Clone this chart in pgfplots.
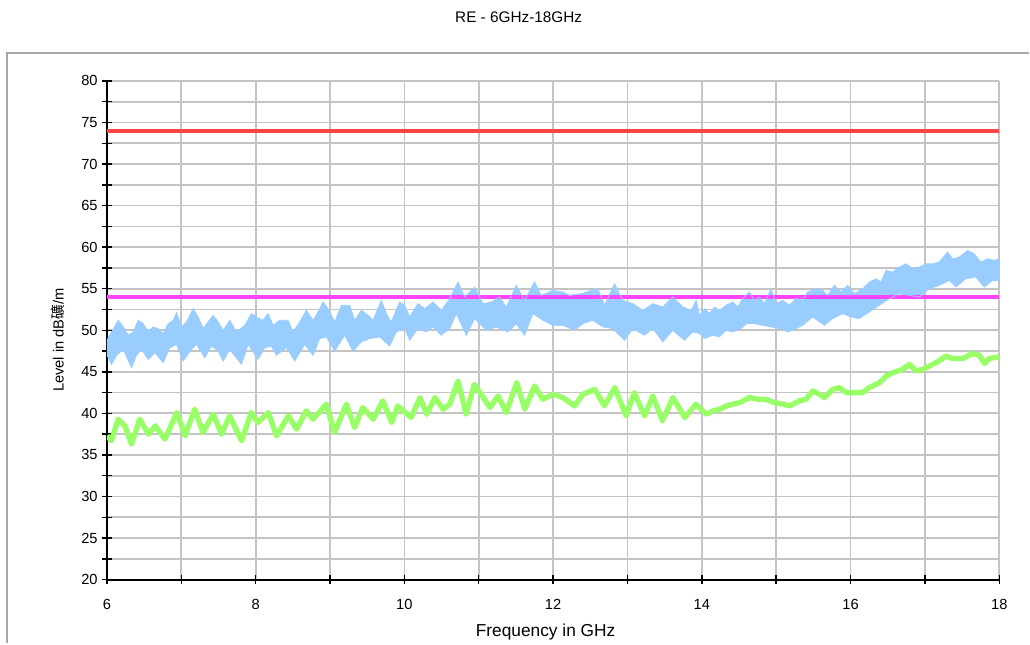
\documentclass[border=0pt]{standalone}
\usepackage{fontspec}
\setmainfont{Liberation Sans}
\newfontfamily\cjk{Noto Sans CJK SC}
\usepackage{pgfplots}
\pgfplotsset{compat=1.18}
\usepgfplotslibrary{fillbetween}
\definecolor{gridgray}{HTML}{C4C4C4}
\definecolor{framegray}{HTML}{A6A6A6}
\definecolor{limred}{HTML}{FF4444}
\definecolor{limmag}{HTML}{FF44FF}
\definecolor{pkblue}{HTML}{99CCFF}
\definecolor{avgreen}{HTML}{99FF66}
\begin{document}
\begin{tikzpicture}
\path (0pt,0pt) rectangle (772.5pt,482.25pt);
\draw[framegray, line width=1.1pt] (5.25pt,0pt) -- (5.25pt,442.5pt) -- (772.5pt,442.5pt);
\node[font=\fontsize{11.5}{13}\selectfont] at (389.25pt,469.5pt) {RE - 6GHz-18GHz};
\node[font=\fontsize{13}{15}\selectfont] at (409.5pt,8pt) {Frequency in GHz};
\node[rotate=90, font=\fontsize{11}{13}\selectfont] at (43.5pt,226.9pt) {Level in dB{\cjk 礦}/m};
\begin{axis}[
 at={(80.25pt,47.25pt)}, anchor=south west,
 scale only axis, width=669.75pt, height=374.25pt,
 xmin=6, xmax=18, ymin=20, ymax=80,
 xtick={6,8,...,18}, minor x tick num=1,
 ytick={20,25,...,80}, minor y tick num=1,
 grid=both,
 major grid style={gridgray, line width=1.3pt},
 minor grid style={gridgray, line width=1.3pt},
 axis x line*=bottom, axis y line*=left,
 axis line style={-, black, line width=1.5pt},
 tick style={black, line width=1.1pt},
 tick align=center,
 major tick length=7pt, minor tick length=7pt,
 ticklabel style={font=\fontsize{11}{13}\selectfont},
 xticklabel style={yshift=-8pt},
 /pgf/number format/assume math mode=true,
]
\addplot[draw=limred, line width=3pt] coordinates {(6,74) (18,74)};
\addplot[draw=limmag, line width=2.6pt] coordinates {(6,54) (18,54)};
% peak trace: upper edge of the band
\addplot[name path=bu, draw=pkblue, line width=0.6pt] coordinates {
(6.0,48.8) (6.063,49.8) (6.152,51.2) (6.219,50.4) (6.286,49.4) (6.354,49.8) (6.421,51.2) (6.488,50.8) (6.555,49.8) (6.622,50.4)
(6.690,50.2) (6.757,49.6) (6.824,50.8) (6.891,51.2) (6.936,52.1) (7.003,50.4) (7.070,51.0) (7.160,52.6) (7.227,51.6) (7.294,50.2)
(7.361,51.0) (7.428,51.8) (7.496,51.0) (7.563,50.0) (7.652,51.2) (7.742,49.8) (7.854,50.6) (7.943,52.0) (8.011,51.6) (8.100,51.2)
(8.167,52.0) (8.234,50.6) (8.324,51.2) (8.436,51.2) (8.503,49.8) (8.593,51.0) (8.682,52.4) (8.772,51.2) (8.839,52.2) (8.906,53.4)
(8.973,52.6) (9.063,51.0) (9.153,53.0) (9.265,53.0) (9.332,51.2) (9.421,52.4) (9.511,51.8) (9.578,51.2) (9.690,53.6) (9.757,52.0)
(9.824,51.0) (9.936,53.4) (10.004,53.0) (10.071,51.6) (10.183,53.2) (10.273,52.6) (10.385,53.4) (10.497,52.4) (10.609,53.8) (10.721,55.8)
(10.810,54.0) (10.945,55.2) (11.057,53.2) (11.169,53.4) (11.280,54.0) (11.370,52.8) (11.504,55.4) (11.616,53.6) (11.751,55.8) (11.840,54.2)
(11.997,54.8) (12.131,54.6) (12.221,54.2) (12.378,54.4) (12.512,54.8) (12.602,55.0) (12.691,53.0) (12.826,55.6) (12.937,53.6) (13.072,53.2)
(13.206,52.4) (13.341,53.2) (13.475,52.8) (13.609,54.0) (13.744,52.8) (13.856,52.4) (13.923,53.6) (13.968,51.8) (14.035,52.6) (14.102,52.0)
(14.170,52.8) (14.237,52.4) (14.326,53.0) (14.416,53.4) (14.483,52.8) (14.550,53.8) (14.640,54.6) (14.707,53.6) (14.774,54.0) (14.841,53.2)
(14.931,55.0) (14.998,53.2) (15.088,53.6) (15.177,53.0) (15.267,53.8) (15.356,53.6) (15.423,54.6) (15.535,55.0) (15.625,54.8) (15.692,54.2)
(15.782,55.4) (15.871,54.6) (15.961,55.4) (16.050,54.4) (16.162,55.0) (16.252,55.8) (16.341,56.2) (16.409,55.8) (16.476,57.2) (16.565,57.0)
(16.655,57.6) (16.745,58.0) (16.834,57.4) (16.924,57.6) (17.013,58.0) (17.103,58.0) (17.192,58.2) (17.304,59.4) (17.371,58.6) (17.461,58.8)
(17.573,59.6) (17.662,59.2) (17.752,58.2) (17.842,58.6) (17.931,58.4) (18.0,58.6)};
% peak trace: lower edge of the band
\addplot[name path=bl, draw=pkblue, line width=0.6pt] coordinates {
(6.0,47.0) (6.063,45.9) (6.130,47.0) (6.219,47.7) (6.331,45.5) (6.398,47.0) (6.466,47.7) (6.555,46.5) (6.645,47.3) (6.757,46.1)
(6.846,47.9) (6.936,48.3) (7.025,46.3) (7.137,47.7) (7.205,48.3) (7.316,46.7) (7.406,48.1) (7.496,47.5) (7.563,46.3) (7.652,47.7)
(7.809,45.9) (7.899,48.3) (8.033,46.5) (8.123,47.9) (8.212,48.1) (8.279,47.0) (8.414,47.9) (8.526,46.3) (8.660,48.3) (8.772,47.0)
(8.861,49.0) (8.951,49.2) (9.063,47.5) (9.197,49.4) (9.309,47.5) (9.421,48.6) (9.533,49.0) (9.668,49.2) (9.802,48.1) (9.891,49.8)
(10.003,50.2) (10.071,48.8) (10.183,50.2) (10.295,49.8) (10.385,50.4) (10.497,49.4) (10.609,50.2) (10.698,52.0) (10.833,49.4) (10.945,51.4)
(11.101,50.0) (11.236,50.4) (11.392,49.8) (11.504,50.8) (11.616,49.4) (11.728,52.0) (11.863,51.2) (11.997,50.6) (12.131,50.6) (12.288,50.0)
(12.400,50.8) (12.534,51.2) (12.669,50.4) (12.803,50.2) (12.960,48.8) (13.072,50.2) (13.229,49.4) (13.341,50.2) (13.475,48.6) (13.609,50.0)
(13.766,48.8) (13.878,49.8) (13.968,49.6) (14.035,49.0) (14.147,49.4) (14.237,49.2) (14.326,50.0) (14.416,49.8) (14.528,50.2) (14.595,50.8)
(14.707,50.8) (14.819,50.6) (14.931,50.4) (15.043,50.2) (15.155,49.8) (15.267,50.2) (15.356,50.6) (15.491,51.6) (15.647,50.6) (15.759,51.4)
(15.894,52.0) (16.006,51.6) (16.118,51.4) (16.252,52.2) (16.386,53.0) (16.521,53.8) (16.655,54.4) (16.789,54.2) (16.924,54.0) (17.058,55.0)
(17.192,55.4) (17.327,56.0) (17.416,55.2) (17.550,56.2) (17.685,56.4) (17.797,55.2) (17.909,56.0) (18.0,56.0)};
\addplot[fill=pkblue, draw=none] fill between[of=bu and bl];
% average trace
\addplot[draw=avgreen, line width=4pt, line join=round] coordinates {
(6.0,37.3) (6.06,36.7) (6.15,39.3) (6.24,38.5) (6.33,36.3) (6.44,39.3) (6.56,37.5) (6.65,38.5) (6.78,36.9) (6.94,40.1)
(7.05,37.3) (7.18,40.5) (7.29,37.7) (7.43,39.9) (7.54,37.5) (7.65,39.7) (7.81,36.7) (7.94,40.1) (8.03,38.9) (8.17,40.1)
(8.28,37.3) (8.44,39.7) (8.55,38.1) (8.68,40.3) (8.77,39.3) (8.95,41.1) (9.06,37.7) (9.22,41.1) (9.33,38.3) (9.44,40.7)
(9.58,39.3) (9.71,41.5) (9.83,38.9) (9.91,40.9) (10.09,39.5) (10.21,41.9) (10.30,39.9) (10.41,41.9) (10.52,40.5) (10.61,41.1)
(10.72,43.9) (10.83,39.9) (10.94,43.5) (11.15,40.7) (11.26,42.1) (11.37,40.1) (11.51,43.7) (11.62,40.5) (11.75,43.3) (11.86,41.7)
(12.0,42.3) (12.13,41.9) (12.29,40.9) (12.40,42.3) (12.56,42.9) (12.69,40.9) (12.83,43.1) (12.98,39.7) (13.09,42.5) (13.23,39.7)
(13.34,42.1) (13.47,39.1) (13.61,41.9) (13.77,39.5) (13.92,41.1) (14.06,39.9) (14.15,40.3) (14.24,40.5) (14.33,40.9) (14.42,41.1)
(14.51,41.3) (14.64,41.9) (14.75,41.7) (14.86,41.7) (14.97,41.3) (15.09,41.1) (15.18,40.9) (15.31,41.5) (15.40,41.7) (15.49,42.7)
(15.58,42.3) (15.65,41.9) (15.76,42.9) (15.85,43.1) (15.94,42.5) (16.07,42.5) (16.16,42.5) (16.25,43.1) (16.39,43.7) (16.48,44.5)
(16.57,44.9) (16.70,45.3) (16.79,45.9) (16.88,45.1) (16.97,45.3) (17.06,45.7) (17.19,46.3) (17.28,46.9) (17.37,46.6) (17.51,46.6)
(17.64,47.2) (17.73,47.0) (17.80,46.0) (17.86,46.6) (18.0,46.8)};
\end{axis}
\end{tikzpicture}
\end{document}
